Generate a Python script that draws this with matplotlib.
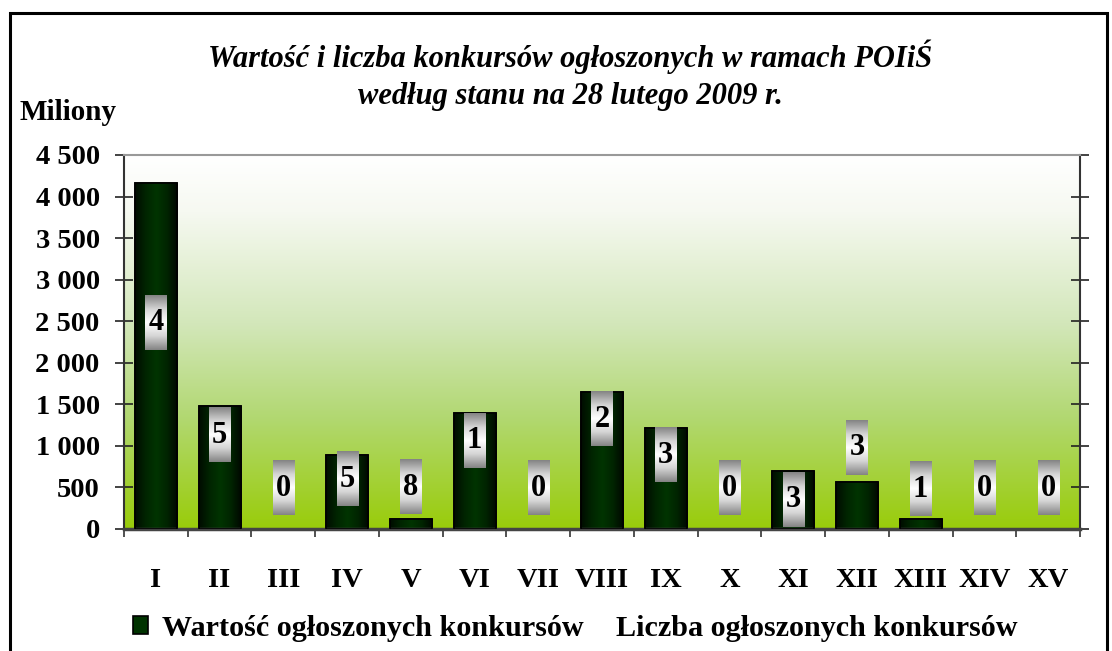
import numpy as np
import matplotlib
matplotlib.use('Agg')
import matplotlib.pyplot as plt
from matplotlib.colors import LinearSegmentedColormap
from matplotlib.patches import Rectangle
from matplotlib.ticker import FuncFormatter, MultipleLocator

# data
categories = ['I', 'II', 'III', 'IV', 'V', 'VI', 'VII', 'VIII', 'IX', 'X',
              'XI', 'XII', 'XIII', 'XIV', 'XV']
values = [4160, 1480, 0, 890, 120, 1400, 0, 1650, 1210, 0, 700, 570, 120, 0, 0]  # mln zł
counts = [4, 5, 0, 5, 8, 1, 0, 2, 3, 0, 3, 3, 1, 0, 0]
# where the count labels sit (in Miliony units), as placed in the original chart
label_y = [2480, 1130, 490, 600, 500, 1060, 490, 1320, 890, 490, 350, 975, 480, 490, 490]

title = 'Wartość i liczba konkursów ogłoszonych w ramach POIiŚ\nwedług stanu na 28 lutego 2009 r.'
ylabel = 'Miliony'
legend_labels = ['Wartość ogłoszonych konkursów', 'Liczba ogłoszonych konkursów']

plt.rcParams['font.family'] = ['Liberation Serif', 'DejaVu Serif']
plt.rcParams['font.weight'] = 'bold'

W, H = 1112, 651
fig = plt.figure(figsize=(W / 100, H / 100), dpi=100)
ax = fig.add_axes([124 / W, 1 - 529 / H, (1080 - 124) / W, (529 - 155) / H])

# background gradient of the plot area
bg_cmap = LinearSegmentedColormap.from_list(
    'bg', [(0, '#99cc0a'), (0.3, '#b2d872'), (0.55, '#d3e7ba'), (0.85, '#f6f9f1'), (1, '#ffffff')])
grad = np.linspace(1, 0, 256).reshape(-1, 1)
ax.imshow(grad, cmap=bg_cmap, aspect='auto', extent=[0, 1, 0, 1],
          transform=ax.transAxes, zorder=0, vmin=0, vmax=1)

x = np.arange(len(categories))
bars = ax.bar(x, values, width=0.66, color='#003300', edgecolor='black',
              linewidth=1.2, zorder=2, label=legend_labels[0])

# horizontal shading on the bars
bar_cmap = LinearSegmentedColormap.from_list(
    'bar', ['#000c00', '#002500', '#003400', '#002400', '#000600'])
hgrad = np.linspace(0, 1, 256).reshape(1, -1)
for b in bars:
    if b.get_height() <= 0:
        continue
    im = ax.imshow(hgrad, cmap=bar_cmap, aspect='auto', zorder=2.5,
                   extent=[b.get_x(), b.get_x() + b.get_width(), 0, b.get_height()])
    im.set_clip_path(b)
    ax.add_patch(Rectangle((b.get_x(), 0), b.get_width(), b.get_height(),
                           fill=False, edgecolor='black', linewidth=1.2, zorder=2.6))

# count labels in grey gradient boxes
box_cmap = LinearSegmentedColormap.from_list(
    'box', ['#858585', '#d5d5d5', '#ffffff', '#d5d5d5', '#858585'])
vgrad = np.linspace(0, 1, 64).reshape(-1, 1)
bw, bh = 0.33, 650
for xi, c, yl in zip(x, counts, label_y):
    ax.imshow(vgrad, cmap=box_cmap, aspect='auto', zorder=3,
              extent=[xi - bw / 2, xi + bw / 2, yl - bh / 2, yl + bh / 2])
    ax.text(xi, yl, str(c), ha='center', va='center', fontsize=22,
            fontweight='bold', zorder=4)

# invisible series for the legend entry
ax.bar(x, [0] * len(x), width=0.66, color='none', label=legend_labels[1])

ax.set_xlim(-0.5, len(categories) - 0.5)
ax.set_ylim(0, 4500)

ax.yaxis.set_major_locator(MultipleLocator(500))
ax.yaxis.set_major_formatter(FuncFormatter(lambda v, p: f'{int(v):,}'.replace(',', ' ')))
ax.tick_params(axis='y', which='major', direction='inout', length=13, width=1.2,
               labelsize=20.5, pad=11, right=True, color='#222222')

ax.set_xticks(x)
ax.set_xticklabels(categories)
ax.set_xticks(np.arange(-0.5, len(categories)), minor=True)
ax.tick_params(axis='x', which='major', length=0, labelsize=20.5, pad=28)
ax.tick_params(axis='x', which='minor', direction='out', length=6, width=1.2, color='#333333')
for lab in ax.get_xticklabels() + ax.get_yticklabels():
    lab.set_fontweight('bold')

for side in ['left', 'right']:
    ax.spines[side].set_color('#333333')
    ax.spines[side].set_linewidth(1.5)
ax.spines['bottom'].set_color('#444444')
ax.spines['bottom'].set_linewidth(2.5)
ax.spines['top'].set_color('#999999')
ax.spines['top'].set_linewidth(1.5)

fig.text(570 / W, 1 - 75 / H, title, ha='center', va='center', fontsize=22,
         fontweight='bold', style='italic', linespacing=1.35)
fig.text(20 / W, 1 - 112 / H, ylabel, ha='left', va='center', fontsize=21, fontweight='bold')

leg = fig.legend(loc='center left', bbox_to_anchor=(133 / W, 1 - 628 / H), ncol=2,
                 frameon=False, fontsize=21.7, handlelength=0.5, handleheight=0.55,
                 handletextpad=0.45, columnspacing=0.12, borderaxespad=0, borderpad=0)
for t in leg.get_texts():
    t.set_fontweight('bold')

# outer chart border
fig.add_artist(Rectangle((10 / W, -0.05), (1107 - 10) / W, 1.05 - 13 / H,
                         transform=fig.transFigure, fill=False, edgecolor='black',
                         linewidth=2.2))

fig.savefig('out.png', dpi=100)
